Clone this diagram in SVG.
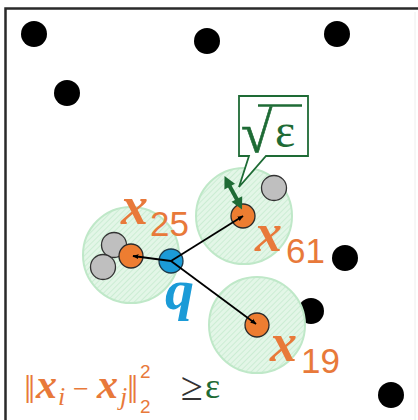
<svg xmlns="http://www.w3.org/2000/svg" width="418" height="420" viewBox="0 0 418 420">
<style>
.blk{fill:#000}
.zone{fill:url(#hatch);stroke:#bfe8c8;stroke-width:2}
.org{fill:#ED7D31;stroke:#2b2b2b;stroke-width:1.3}
.gry{fill:#BFBFBF;stroke:#333;stroke-width:1.3}
.edge{stroke:#000;stroke-width:1.8;fill:none;marker-end:url(#ah)}
.lx{font-family:"Liberation Serif","DejaVu Serif",serif;font-weight:bold;font-style:italic;fill:#E8793A}
.ld{font-family:"Liberation Sans","DejaVu Sans",sans-serif;fill:#E8793A}
.f{font-family:"Liberation Serif","DejaVu Serif",serif}
.gr{fill:#1E6B35}
</style>
<defs>
<pattern id="hatch" patternUnits="userSpaceOnUse" width="4" height="4" patternTransform="rotate(45)">
<rect width="4" height="4" fill="#e3f6e7"/>
<line x1="0" y1="0" x2="0" y2="4" stroke="#c6ebcf" stroke-width="1.6"/>
</pattern>
<marker id="ah" viewBox="0 0 10 10" refX="9" refY="5" markerWidth="6" markerHeight="6" orient="auto" markerUnits="userSpaceOnUse">
<path d="M0,1 L10,5 L0,9 z" fill="#000"/>
</marker>
</defs>
<rect width="418" height="420" fill="#fff"/>
<path d="M5.5,420 V8.5 H418" fill="none" stroke="#2a2a2a" stroke-width="2.5"/>
<line x1="415" y1="12" x2="415" y2="420" stroke="#eeeeee" stroke-width="1"/>

<g id="background-points">
<circle class="blk" cx="34" cy="34" r="13"/>
<circle class="blk" cx="207" cy="41" r="13"/>
<circle class="blk" cx="337" cy="34" r="13"/>
<circle class="blk" cx="67" cy="93" r="13"/>
<circle class="blk" cx="345" cy="258" r="13"/>
<circle class="blk" cx="311" cy="311" r="13"/>
<circle class="blk" cx="391" cy="395" r="13"/>
</g>

<g id="zones">
<circle class="zone" cx="244" cy="216" r="48"/>
<circle class="zone" cx="131" cy="255" r="48"/>
<circle class="zone" cx="257" cy="325" r="48"/>
</g>

<g id="gray-points">
<circle class="gry" cx="274" cy="188" r="12.5"/>
<circle class="gry" cx="114" cy="245" r="12.5"/>
<circle class="gry" cx="103" cy="267" r="12.5"/>
</g>

<g id="x25">
<circle class="org" cx="131" cy="256" r="12"/>
<text class="lx" x="121" y="224" font-size="54">x</text>
<text class="ld" x="150" y="236" font-size="35">25</text>
</g>
<g id="x61">
<circle class="org" cx="243" cy="216" r="12"/>
<text class="lx" x="255" y="251" font-size="54">x</text>
<text class="ld" x="286" y="263" font-size="35">61</text>
</g>
<g id="x19">
<circle class="org" cx="257" cy="325" r="12"/>
<text class="lx" x="270" y="361" font-size="54">x</text>
<text class="ld" x="301" y="373" font-size="35">19</text>
</g>
<g id="q">
<circle cx="171" cy="261" r="12" fill="#1B9BD7" stroke="#1f3a4a" stroke-width="1.3"/>
<text class="f" x="165" y="309" font-size="58" font-weight="bold" font-style="italic" fill="#1B9BD7">q</text>
</g>

<g id="connectors">
<line class="edge" x1="171" y1="261" x2="243" y2="216"/>
<line class="edge" x1="171" y1="261" x2="133" y2="256"/>
<line class="edge" x1="171" y1="261" x2="256" y2="324"/>
<g id="radius-arrow">
<line x1="229" y1="185" x2="237.5" y2="200.5" stroke="#1E6B35" stroke-width="4"/>
<polygon class="gr" points="224.5,176 224.4,189.4 235,183.8"/>
<polygon class="gr" points="242,209.5 231.6,201.8 242.2,196.2"/>
</g>
</g>

<g id="callout">
<path d="M239,96 H308 V156 H266 L239,187 L249,156 H239 Z" fill="#fff" stroke="#1E6B35" stroke-width="1.8"/>
<text class="f" x="241" y="152" font-size="57" fill="#1E6B35" stroke="#1E6B35" stroke-width="0.6">√</text>
<line x1="258" y1="105.5" x2="302" y2="105.5" stroke="#1E6B35" stroke-width="2.4"/>
<text class="f" x="275" y="147" font-size="48" fill="#1E6B35">ε</text>
</g>

<g id="formula">
<text class="f" x="24" y="403" font-size="40" fill="#E8793A">‖</text>
<text class="lx" x="36" y="398" font-size="42">x</text>
<text class="f" x="58" y="405" font-size="26" font-style="italic" fill="#E8793A">i</text>
<text class="f" x="73" y="398" font-size="28" fill="#E8793A">−</text>
<text class="lx" x="97" y="398" font-size="42">x</text>
<text class="f" x="120" y="405" font-size="26" font-style="italic" fill="#E8793A">j</text>
<text class="f" x="127" y="403" font-size="40" fill="#E8793A">‖</text>
<text class="ld" x="140" y="378" font-size="19">2</text>
<text class="ld" x="140" y="413" font-size="19">2</text>
<text class="f" x="181" y="400" font-size="40" fill="#333">≥</text>
<text class="f" x="205" y="398" font-size="36" fill="#1E6B35">ε</text>
</g>
</svg>
